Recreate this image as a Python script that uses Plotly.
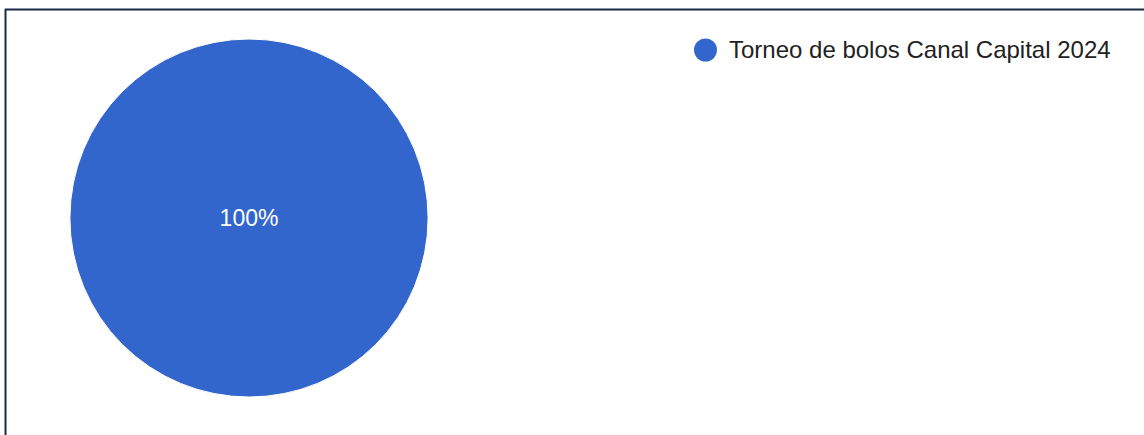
import plotly.graph_objects as go

# Data
categories = ["Torneo de bolos Canal Capital 2024"]
values = [1]
colors = ["#3366CC"]

W, H = 1144, 435

def px(x):
    return x / W

def py(y):
    return 1 - y / H

fig = go.Figure()

fig.add_trace(go.Pie(
    labels=categories,
    values=values,
    marker=dict(colors=colors, line=dict(color="white", width=1)),
    texttemplate="%{percent:.0%}",
    textposition="inside",
    insidetextfont=dict(family="Liberation Sans, Arial", size=23, color="white"),
    sort=False,
    showlegend=False,
    domain=dict(x=[px(70), px(428)], y=[py(397), py(39)]),
))

shapes = [
    # frame: top and left edges
    dict(type="line", xref="paper", yref="paper",
         x0=px(5), x1=1, y0=py(9.5), y1=py(9.5),
         line=dict(color="#1b2a44", width=2)),
    dict(type="line", xref="paper", yref="paper",
         x0=px(5.5), x1=px(5.5), y0=py(9), y1=0,
         line=dict(color="#1b2a44", width=2)),
]

annotations = []
# legend entries: circle swatch + label
for i, (name, col) in enumerate(zip(categories, colors)):
    cy = 50 + i * 30
    shapes.append(dict(type="circle", xref="paper", yref="paper",
                       x0=px(694), x1=px(717), y0=py(cy + 11.5), y1=py(cy - 11.5),
                       fillcolor=col, line=dict(width=0)))
    annotations.append(dict(text=name, xref="paper", yref="paper",
                            x=px(727), y=py(cy), xanchor="left", yanchor="middle",
                            showarrow=False,
                            font=dict(family="Liberation Sans, Arial", size=24, color="#222222")))

fig.update_layout(
    width=W, height=H,
    margin=dict(l=0, r=0, t=0, b=0),
    paper_bgcolor="white",
    plot_bgcolor="white",
    shapes=shapes,
    annotations=annotations,
)

fig.write_html("out.html", config={"displayModeBar": False})
